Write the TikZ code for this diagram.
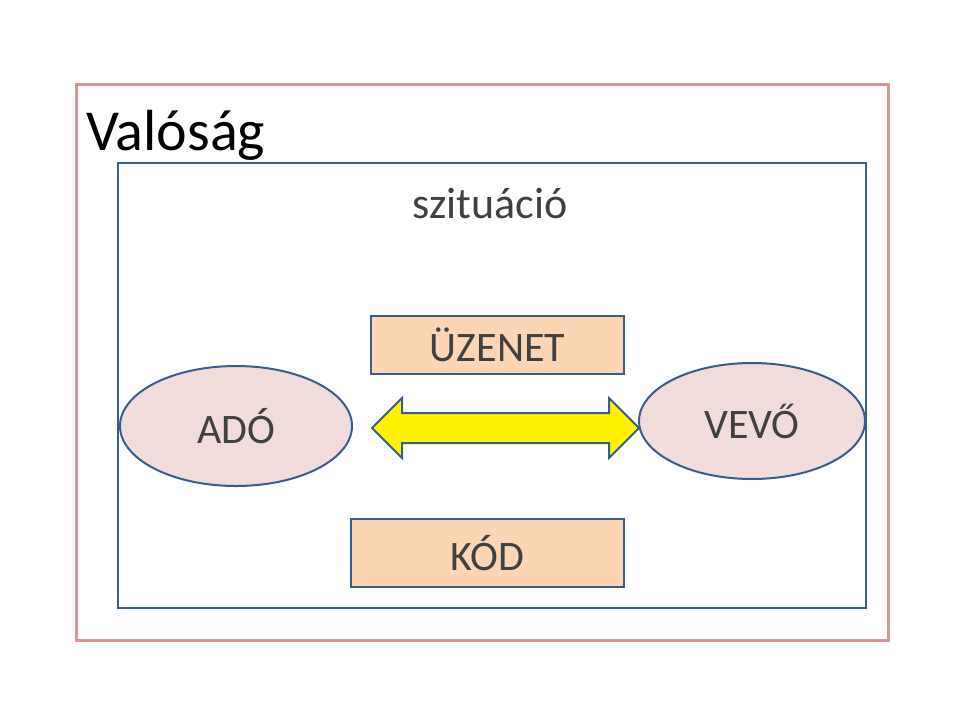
\documentclass[tikz,border=0pt]{standalone}
\usepackage{fontspec}
\setmainfont{Carlito}
\usetikzlibrary{shapes.geometric}
\definecolor{outerc}{RGB}{217,150,148}
\definecolor{bluec}{RGB}{56,93,138}
\definecolor{boxf}{RGB}{252,213,180}
\definecolor{ellf}{RGB}{242,220,219}
\definecolor{textg}{RGB}{64,64,64}
\tikzset{
 rbox/.style={draw=bluec,line width=2pt,fill=boxf,text=textg,font=\fontsize{42}{46}\selectfont,inner sep=0pt},
 oval/.style={ellipse,draw=bluec,line width=2pt,fill=ellf,text=textg,font=\fontsize{42}{46}\selectfont,inner sep=0pt},
}
\begin{document}
\begin{tikzpicture}[x=1pt,y=-1pt]
\useasboundingbox (0,0) rectangle (960,720);
\draw[outerc,line width=3pt] (76,84) rectangle (888,640);
\draw[bluec,line width=2pt] (118,163) rectangle (866,608);
\node[anchor=base west,font=\fontsize{58}{64}\selectfont,inner sep=0pt] (val) at (86,150) {Valóság};
\node[anchor=base,text=textg,font=\fontsize{44}{50}\selectfont,inner sep=0pt] (szit) at (490,218) {szituáció};
\node[rbox,minimum width=253pt,minimum height=58pt] (uz) at (497.5,345) {ÜZENET};
\node[rbox,minimum width=273pt,minimum height=68pt] (kod) at (487.5,553) {KÓD};
\node[oval,minimum width=232pt,minimum height=120pt] (ado) at (236,426) {ADÓ};
\node[oval,minimum width=226pt,minimum height=116pt] (vevo) at (752,421) {VEVŐ};
\coordinate (arr) at (505,428);
\draw[bluec,line width=2pt,fill=yellow] (372,428) -- (402,398) -- (402,413) -- (609,413) -- (609,398) -- (639,428) -- (609,458) -- (609,443) -- (402,443) -- (402,458) -- cycle;
\end{tikzpicture}
\end{document}
